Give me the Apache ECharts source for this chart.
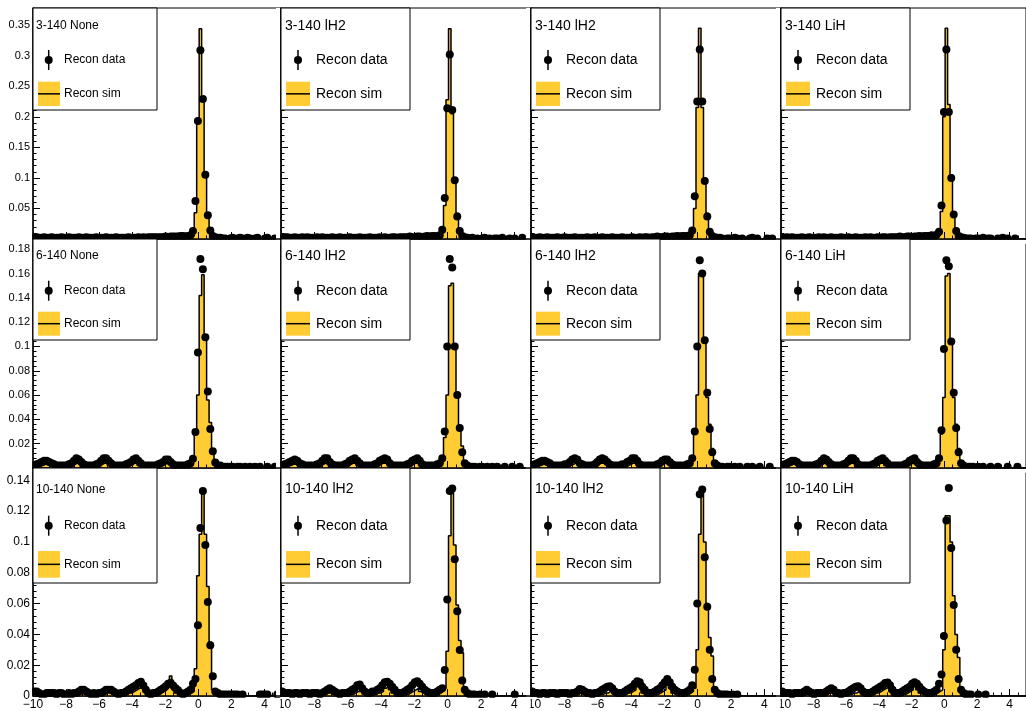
<!DOCTYPE html>
<html>
<head>
<meta charset="utf-8">
<title>Recon data vs Recon sim</title>
<script src="https://cdn.jsdelivr.net/npm/echarts@6/dist/echarts.min.js"></script>
<style>
  html, body { margin: 0; padding: 0; background: #fff; }
  #chart { width: 1026px; height: 711px; }
</style>
</head>
<body>
<div id="chart"></div>
<script>
// 100 bins of 0.15 between -10 and 5
const xMin = -10
const xMax = 5
const binWidth = 0.15
const binCount = 100

const titles = [
  ['3-140 None', '3-140 lH2', '3-140 lH2', '3-140 LiH'],
  ['6-140 None', '6-140 lH2', '6-140 lH2', '6-140 LiH'],
  ['10-140 None', '10-140 lH2', '10-140 lH2', '10-140 LiH'],
]

// ---- row 1 : 3-140 ----
const data3None = [
  0.003,0.003,0.002,0.002,0.003,0.002,0.002,0.003,0.002,0.002,
  0.002,0.003,0.002,0.002,0.003,0.002,0.002,0.002,0.003,0.002,
  0.002,0.003,0.002,0.002,0.002,0.003,0.002,0.002,0.002,0.003,
  0.002,0.002,0.002,0.003,0.002,0.002,0.002,0.002,0.003,0.002,
  0.002,0.002,0.003,0.002,0.003,0.002,0.003,0.003,0.003,0.003,
  0.003,0.003,0.003,0.004,0.003,0.004,0.004,0.004,0.004,0.005,
  0.005,0.004,0.005,0.006,0.013,0.062,0.193,0.309,0.229,0.105,
  0.039,0.014,0.005,0.003,0.002,0.002,0.001,0.001,null,0.001,
  0.002,null,0.001,0.002,0.001,null,0.002,0.001,null,0.001,
  0.002,null,null,0.001,0.002,null,null,0.001,null,null,
]
const sim3None = [
  0.001,0.001,0.001,0.001,0.001,0.001,0.001,0.001,0.001,0.001,
  0.001,0.001,0.001,0.001,0.001,0.001,0.001,0.001,0.001,0.001,
  0.001,0.001,0.001,0.001,0.001,0.001,0.001,0.001,0.001,0.001,
  0.001,0.001,0.001,0.001,0.001,0.001,0.001,0.001,0.001,0.001,
  0.001,0.001,0.001,0.001,0.001,0.001,0.001,0.001,0.002,0.001,
  0.001,0.002,0.001,0.002,0.002,0.001,0.002,0.002,0.002,0.002,
  0.002,0.002,0.003,0.004,0.005,0.043,0.198,0.344,0.228,0.106,
  0.043,0.012,0.003,0.001,0,0,0,0,0,0,
  0,0,0,0,0,0,0,0,0,0,
  0,0,0,0,0,0,0,0,0,0,
]
const data3LH2a = [
  0.002,0.003,0.003,0.002,0.002,0.003,0.002,0.002,0.003,0.002,
  0.003,0.002,0.002,0.002,0.003,0.002,0.003,0.002,0.002,0.002,
  0.003,0.002,0.002,0.003,0.002,0.002,0.002,0.003,0.002,0.002,
  0.002,0.003,0.002,0.002,0.002,0.003,0.002,0.002,0.002,0.003,
  0.002,0.003,0.002,0.002,0.003,0.003,0.002,0.003,0.003,0.003,
  0.003,0.004,0.003,0.003,0.004,0.004,0.003,0.004,0.005,0.004,
  0.005,0.005,0.004,0.006,0.015,0.067,0.214,0.302,0.211,0.096,
  0.037,0.013,0.005,0.003,0.002,0.001,0.002,null,0.001,null,
  0.001,0.002,null,0.001,null,0.001,0.001,null,0.002,null,
  null,0.001,null,0.001,null,null,0.002,null,null,null,
]
const sim3LH2a = [
  0.001,0.001,0.001,0.001,0.001,0.001,0.001,0.001,0.001,0.001,
  0.001,0.001,0.001,0.001,0.001,0.001,0.001,0.001,0.001,0.001,
  0.001,0.001,0.001,0.001,0.001,0.001,0.001,0.001,0.001,0.001,
  0.001,0.001,0.001,0.001,0.001,0.001,0.001,0.001,0.001,0.001,
  0.001,0.001,0.001,0.001,0.001,0.001,0.002,0.001,0.001,0.001,
  0.002,0.001,0.002,0.002,0.001,0.002,0.002,0.002,0.002,0.002,
  0.002,0.002,0.003,0.004,0.010,0.055,0.228,0.344,0.205,0.096,
  0.042,0.012,0.003,0.001,0,0,0,0,0,0,
  0,0,0,0,0,0,0,0,0,0,
  0,0,0,0,0,0,0,0,0,0,
]
const data3LH2b = [
  0.003,0.002,0.002,0.003,0.002,0.002,0.003,0.002,0.002,0.002,
  0.003,0.002,0.002,0.003,0.002,0.002,0.002,0.003,0.002,0.002,
  0.002,0.002,0.003,0.002,0.002,0.003,0.002,0.002,0.003,0.002,
  0.002,0.002,0.003,0.002,0.002,0.002,0.003,0.002,0.002,0.002,
  0.003,0.002,0.002,0.003,0.002,0.003,0.003,0.002,0.003,0.003,
  0.004,0.003,0.003,0.004,0.004,0.003,0.004,0.004,0.005,0.004,
  0.005,0.005,0.005,0.006,0.014,0.070,0.225,0.310,0.225,0.095,
  0.037,0.012,0.005,0.003,0.002,0.002,0.001,null,0.001,0.001,
  null,0.002,0.001,null,0.001,null,null,0.001,0.002,null,
  0.001,null,null,null,0.001,null,0.001,null,null,null,
]
const sim3LH2b = [
  0.001,0.001,0.001,0.001,0.001,0.001,0.001,0.001,0.001,0.001,
  0.001,0.001,0.001,0.001,0.001,0.001,0.001,0.001,0.001,0.001,
  0.001,0.001,0.001,0.001,0.001,0.001,0.001,0.001,0.001,0.001,
  0.001,0.001,0.001,0.001,0.001,0.001,0.001,0.001,0.001,0.001,
  0.001,0.001,0.001,0.001,0.002,0.001,0.001,0.001,0.002,0.001,
  0.002,0.002,0.001,0.002,0.002,0.002,0.002,0.002,0.002,0.003,
  0.002,0.003,0.003,0.004,0.008,0.050,0.215,0.345,0.215,0.100,
  0.042,0.012,0.003,0.001,0,0,0,0,0,0,
  0,0,0,0,0,0,0,0,0,0,
  0,0,0,0,0,0,0,0,0,0,
]
const data3LiH = [
  0.002,0.002,0.003,0.002,0.003,0.002,0.002,0.002,0.003,0.002,
  0.002,0.003,0.002,0.002,0.002,0.003,0.002,0.003,0.002,0.002,
  0.003,0.002,0.002,0.002,0.003,0.002,0.002,0.003,0.002,0.002,
  0.003,0.002,0.002,0.002,0.003,0.002,0.003,0.002,0.002,0.003,
  0.002,0.003,0.003,0.002,0.003,0.003,0.003,0.003,0.004,0.003,
  0.003,0.004,0.004,0.003,0.004,0.004,0.005,0.004,0.005,0.005,
  0.005,0.006,0.005,0.007,0.012,0.055,0.208,0.310,0.208,0.100,
  0.040,0.013,0.005,0.003,0.002,0.001,0.001,0.001,null,0.001,
  0.001,null,0.002,null,0.001,0.001,null,null,0.001,null,
  0.002,null,0.001,null,null,0.001,null,null,null,null,
]
const sim3LiH = [
  0.001,0.001,0.001,0.001,0.001,0.001,0.001,0.001,0.001,0.001,
  0.001,0.001,0.001,0.001,0.001,0.001,0.001,0.001,0.001,0.001,
  0.001,0.001,0.001,0.001,0.001,0.001,0.001,0.001,0.001,0.001,
  0.001,0.001,0.001,0.001,0.001,0.001,0.001,0.001,0.001,0.001,
  0.001,0.001,0.001,0.002,0.001,0.001,0.002,0.001,0.002,0.002,
  0.002,0.002,0.002,0.002,0.002,0.003,0.002,0.002,0.003,0.003,
  0.002,0.003,0.003,0.005,0.006,0.045,0.200,0.345,0.220,0.105,
  0.043,0.012,0.003,0.001,0,0,0,0,0,0,
  0,0,0,0,0,0,0,0,0,0,
  0,0,0,0,0,0,0,0,0,0,
]

// ---- row 2 : 6-140 ----
const data6None = [
  0.002,0.003,0.004,0.005,0.006,0.006,0.005,0.004,0.003,0.002,
  0.002,0.002,0.002,0.002,0.003,0.004,0.006,0.008,0.007,0.005,
  0.003,0.002,0.002,0.002,0.002,0.003,0.004,0.006,0.008,0.008,
  0.006,0.004,0.002,0.002,0.002,0.002,0.002,0.003,0.004,0.005,
  0.007,0.008,0.006,0.004,0.002,0.002,0.002,0.002,0.002,0.002,
  0.003,0.004,0.005,0.007,0.007,0.005,0.003,0.002,0.002,0.002,
  0.002,0.002,0.003,0.004,0.0077,0.0296,0.095,0.172,0.1635,0.1076,
  0.063,0.032,0.0137,0.0046,0.002,0.002,0.001,0.001,0.001,0.001,
  0.001,null,0.001,0.001,null,0.001,null,0.001,null,0.001,
  null,0.001,null,null,0.001,null,null,0.001,null,null,
]
const sim6None = [
  0.001,0.001,0.002,0.002,0.003,0.003,0.002,0.001,0.001,0.001,
  0.001,0.001,0.001,0.001,0.001,0.002,0.003,0.004,0.003,0.001,
  0.001,0.001,0.001,0.001,0.001,0.001,0.002,0.003,0.004,0.004,
  0.002,0.001,0.001,0.001,0.001,0.001,0.001,0.001,0.002,0.003,
  0.004,0.004,0.002,0.001,0.001,0.001,0.001,0.001,0.001,0.001,
  0.001,0.002,0.003,0.004,0.004,0.002,0.001,0.001,0.001,0.001,
  0.001,0.001,0.002,0.004,0.008,0.030,0.060,0.142,0.159,0.1055,
  0.056,0.0375,0.015,0.005,0.001,0,0,0,0,0,
  0,0,0,0,0,0,0,0,0,0,
  0,0,0,0,0,0,0,0,0,0,
]
const data6LH2a = [
  0.002,0.003,0.004,0.005,0.006,0.007,0.006,0.004,0.003,0.002,
  0.002,0.002,0.002,0.002,0.003,0.004,0.006,0.008,0.008,0.005,
  0.003,0.002,0.002,0.002,0.002,0.003,0.004,0.006,0.007,0.008,
  0.006,0.004,0.002,0.002,0.002,0.002,0.002,0.003,0.004,0.006,
  0.007,0.008,0.007,0.004,0.002,0.002,0.002,0.002,0.002,0.002,
  0.003,0.004,0.006,0.007,0.008,0.006,0.003,0.002,0.002,0.002,
  0.002,0.002,0.003,0.004,0.008,0.030,0.100,0.172,0.165,0.100,
  0.060,0.033,0.013,0.004,0.002,0.001,0.001,0.001,null,0.001,
  0.001,null,0.001,null,0.001,null,0.001,null,null,0.001,
  null,null,0.001,null,null,0.001,null,null,null,null,
]
const sim6LH2a = [
  0.001,0.001,0.002,0.002,0.003,0.003,0.002,0.001,0.001,0.001,
  0.001,0.001,0.001,0.001,0.001,0.002,0.003,0.004,0.004,0.001,
  0.001,0.001,0.001,0.001,0.001,0.001,0.002,0.003,0.004,0.004,
  0.002,0.001,0.001,0.001,0.001,0.001,0.001,0.001,0.002,0.003,
  0.004,0.004,0.003,0.001,0.001,0.001,0.001,0.001,0.001,0.001,
  0.001,0.002,0.003,0.004,0.004,0.002,0.001,0.001,0.001,0.001,
  0.001,0.001,0.002,0.003,0.005,0.025,0.060,0.150,0.152,0.100,
  0.058,0.035,0.018,0.005,0.001,0,0,0,0,0,
  0,0,0,0,0,0,0,0,0,0,
  0,0,0,0,0,0,0,0,0,0,
]
const data6LH2b = [
  0.002,0.003,0.004,0.005,0.006,0.006,0.005,0.004,0.002,0.002,
  0.002,0.002,0.002,0.003,0.003,0.005,0.007,0.008,0.007,0.004,
  0.003,0.002,0.002,0.002,0.002,0.003,0.005,0.007,0.008,0.007,
  0.005,0.003,0.002,0.002,0.002,0.002,0.003,0.003,0.005,0.006,
  0.008,0.008,0.006,0.003,0.002,0.002,0.002,0.002,0.002,0.002,
  0.003,0.004,0.006,0.007,0.007,0.005,0.003,0.002,0.002,0.002,
  0.002,0.002,0.003,0.004,0.008,0.030,0.100,0.171,0.160,0.105,
  0.062,0.032,0.013,0.004,0.002,0.001,0.001,null,0.001,0.001,
  null,0.001,null,0.001,null,null,0.001,null,0.001,null,
  null,0.001,null,null,null,0.001,null,null,null,null,
]
const sim6LH2b = [
  0.001,0.001,0.002,0.002,0.003,0.003,0.002,0.001,0.001,0.001,
  0.001,0.001,0.001,0.001,0.001,0.002,0.003,0.004,0.003,0.001,
  0.001,0.001,0.001,0.001,0.001,0.001,0.002,0.004,0.004,0.003,
  0.002,0.001,0.001,0.001,0.001,0.001,0.001,0.001,0.002,0.003,
  0.004,0.004,0.002,0.001,0.001,0.001,0.001,0.001,0.001,0.001,
  0.001,0.002,0.003,0.004,0.004,0.002,0.001,0.001,0.001,0.001,
  0.001,0.001,0.002,0.003,0.006,0.028,0.060,0.160,0.161,0.105,
  0.058,0.036,0.016,0.005,0.001,0,0,0,0,0,
  0,0,0,0,0,0,0,0,0,0,
  0,0,0,0,0,0,0,0,0,0,
]
const data6LiH = [
  0.002,0.003,0.004,0.005,0.006,0.006,0.005,0.003,0.002,0.002,
  0.002,0.002,0.002,0.002,0.003,0.004,0.006,0.008,0.007,0.005,
  0.003,0.002,0.002,0.002,0.002,0.003,0.004,0.006,0.008,0.008,
  0.006,0.003,0.002,0.002,0.002,0.002,0.002,0.003,0.004,0.006,
  0.007,0.008,0.006,0.004,0.002,0.002,0.002,0.002,0.002,0.002,
  0.003,0.004,0.006,0.007,0.008,0.005,0.003,0.002,0.002,0.002,
  0.002,0.002,0.003,0.004,0.008,0.031,0.098,0.171,0.166,0.104,
  0.062,0.033,0.013,0.004,0.002,0.001,0.001,0.001,0.001,null,
  0.001,null,0.001,null,null,0.001,null,null,0.001,null,
  null,null,0.001,null,null,null,0.001,null,null,null,
]
const sim6LiH = [
  0.001,0.001,0.002,0.002,0.003,0.003,0.002,0.001,0.001,0.001,
  0.001,0.001,0.001,0.001,0.001,0.002,0.003,0.004,0.003,0.001,
  0.001,0.001,0.001,0.001,0.001,0.001,0.002,0.003,0.004,0.004,
  0.002,0.001,0.001,0.001,0.001,0.001,0.001,0.001,0.002,0.003,
  0.004,0.004,0.002,0.001,0.001,0.001,0.001,0.001,0.001,0.001,
  0.001,0.002,0.003,0.004,0.004,0.002,0.001,0.001,0.001,0.001,
  0.001,0.001,0.002,0.003,0.006,0.028,0.058,0.158,0.160,0.105,
  0.058,0.036,0.016,0.005,0.001,0,0,0,0,0,
  0,0,0,0,0,0,0,0,0,0,
  0,0,0,0,0,0,0,0,0,0,
]

// ---- row 3 : 10-140 ----
const data10None = [
  0.003,0.003,0.002,0.001,0.001,0.002,0.002,0.002,0.002,0.001,
  0.002,0.002,0.001,0.001,0.002,0.001,0.002,0.002,0.003,0.004,
  0.004,0.003,0.002,0.001,0.002,0.001,0.002,0.002,0.003,0.004,
  0.004,0.004,0.003,0.002,0.001,0.002,0.002,0.003,0.004,0.005,
  0.006,0.007,0.0085,0.0092,0.0068,0.004,0.002,0.001,0.002,0.002,
  0.003,0.004,0.005,0.0064,0.008,0.0086,0.0068,0.005,0.0038,0.002,
  0.001,0.002,0.003,0.004,0.008,0.011,0.046,0.109,0.133,0.098,
  0.061,0.033,0.0129,0.003,0.002,0.001,0.001,0.001,0.001,0.001,
  0.001,0.001,0.001,null,0.001,null,null,null,null,null,
  null,0.001,0.001,0.001,0.001,null,null,null,0.001,null,
]
const sim10None = [
  0.002,0.002,0.001,0.001,0.001,0.001,0.001,0.001,0.001,0.001,
  0.001,0.001,0.001,0.001,0.001,0.001,0.001,0.001,0.002,0.002,
  0.003,0.002,0.001,0.001,0.001,0.001,0.001,0.001,0.001,0.002,
  0.003,0.004,0.002,0.001,0.001,0.001,0.001,0.001,0.002,0.002,
  0.003,0.004,0.005,0.006,0.005,0.002,0.001,0.001,0.001,0.001,
  0.001,0.002,0.003,0.004,0.006,0.013,0.004,0.002,0.001,0.001,
  0.001,0.001,0.001,0.002,0.003,0.0177,0.078,0.105,0.134,0.105,
  0.071,0.035,0.004,0.001,0,0,0,0,0,0,
  0,0,0,0,0,0,0,0,0,0,
  0,0,0,0,0,0,0,0,0,0,
]
const data10LH2a = [
  0.003,0.002,0.002,0.002,0.001,0.002,0.002,0.001,0.002,0.002,
  0.002,0.001,0.002,0.002,0.002,0.001,0.002,0.003,0.004,0.005,
  0.004,0.003,0.002,0.001,0.002,0.002,0.002,0.003,0.004,0.005,
  0.007,0.0075,0.005,0.003,0.002,0.002,0.003,0.003,0.004,0.005,
  0.007,0.009,0.0092,0.008,0.006,0.004,0.002,0.002,0.002,0.003,
  0.004,0.005,0.007,0.009,0.0096,0.008,0.006,0.004,0.003,0.002,
  0.002,0.002,0.003,0.004,0.005,0.0168,0.0627,0.133,0.1347,0.0888,
  0.055,0.0298,0.0101,0.004,0.002,0.001,0.001,0.001,null,0.001,
  null,0.001,null,null,0.001,null,null,null,null,null,
  null,null,null,0.001,null,null,null,null,null,null,
]
const sim10LH2a = [
  0.002,0.001,0.001,0.001,0.001,0.001,0.001,0.001,0.001,0.001,
  0.001,0.001,0.001,0.001,0.001,0.001,0.001,0.001,0.002,0.002,
  0.002,0.001,0.001,0.001,0.001,0.001,0.001,0.001,0.001,0.002,
  0.003,0.003,0.002,0.001,0.001,0.001,0.001,0.001,0.002,0.002,
  0.003,0.005,0.006,0.004,0.002,0.001,0.001,0.001,0.001,0.001,
  0.001,0.002,0.003,0.004,0.005,0.003,0.002,0.001,0.001,0.001,
  0.001,0.001,0.001,0.002,0.003,0.005,0.029,0.104,0.135,0.098,
  0.059,0.036,0.028,0.004,0.001,0,0,0,0,0,
  0,0,0,0,0,0,0,0,0,0,
  0,0,0,0,0,0,0,0,0,0,
]
const data10LH2b = [
  0.003,0.002,0.002,0.001,0.002,0.002,0.001,0.002,0.002,0.002,
  0.001,0.002,0.002,0.002,0.002,0.001,0.002,0.002,0.003,0.0045,
  0.004,0.003,0.002,0.002,0.001,0.002,0.002,0.003,0.004,0.005,
  0.006,0.0064,0.005,0.003,0.002,0.002,0.002,0.003,0.004,0.005,
  0.006,0.008,0.0096,0.009,0.006,0.004,0.002,0.002,0.002,0.003,
  0.004,0.005,0.007,0.009,0.011,0.009,0.006,0.004,0.003,0.002,
  0.002,0.002,0.003,0.004,0.007,0.017,0.060,0.131,0.134,0.090,
  0.058,0.030,0.011,0.004,0.002,0.001,0.001,0.001,0.001,null,
  0.001,null,0.001,null,null,null,null,null,null,null,
  null,null,null,null,null,null,null,null,null,null,
]
const sim10LH2b = [
  0.002,0.001,0.001,0.001,0.001,0.001,0.001,0.001,0.001,0.001,
  0.001,0.001,0.001,0.001,0.001,0.001,0.001,0.001,0.002,0.002,
  0.002,0.001,0.001,0.001,0.001,0.001,0.001,0.001,0.001,0.002,
  0.002,0.003,0.002,0.001,0.001,0.001,0.001,0.001,0.002,0.002,
  0.003,0.004,0.006,0.005,0.002,0.001,0.001,0.001,0.001,0.001,
  0.001,0.002,0.003,0.004,0.007,0.005,0.002,0.001,0.001,0.001,
  0.001,0.001,0.001,0.002,0.003,0.005,0.030,0.105,0.135,0.100,
  0.060,0.038,0.026,0.004,0.001,0,0,0,0,0,
  0,0,0,0,0,0,0,0,0,0,
  0,0,0,0,0,0,0,0,0,0,
]
const data10LiH = [
  0.003,0.002,0.002,0.002,0.001,0.002,0.002,0.002,0.002,0.003,
  0.004,0.003,0.002,0.001,0.002,0.002,0.002,0.002,0.003,0.004,
  0.005,0.004,0.002,0.002,0.001,0.002,0.002,0.003,0.004,0.005,
  0.006,0.0064,0.005,0.003,0.002,0.002,0.002,0.003,0.004,0.005,
  0.006,0.007,0.0085,0.0088,0.007,0.004,0.002,0.002,0.002,0.003,
  0.004,0.005,0.006,0.008,0.009,0.008,0.006,0.004,0.003,0.002,
  0.002,0.002,0.003,0.004,0.008,0.014,0.039,0.114,0.135,0.096,
  0.059,0.030,0.011,0.004,0.002,0.001,0.001,0.001,null,null,
  0.001,null,null,0.001,null,null,null,null,null,null,
  null,null,null,null,null,null,null,null,null,null,
]
const sim10LiH = [
  0.002,0.001,0.001,0.001,0.001,0.001,0.001,0.001,0.001,0.001,
  0.001,0.001,0.001,0.001,0.001,0.001,0.001,0.001,0.001,0.002,
  0.002,0.001,0.001,0.001,0.001,0.001,0.001,0.001,0.001,0.002,
  0.002,0.003,0.002,0.001,0.001,0.001,0.001,0.001,0.002,0.002,
  0.003,0.004,0.005,0.006,0.003,0.001,0.001,0.001,0.001,0.001,
  0.001,0.002,0.003,0.004,0.006,0.004,0.002,0.001,0.001,0.001,
  0.001,0.001,0.001,0.002,0.003,0.004,0.030,0.117,0.117,0.100,
  0.065,0.040,0.025,0.004,0.001,0,0,0,0,0,
  0,0,0,0,0,0,0,0,0,0,
  0,0,0,0,0,0,0,0,0,0,
]

const dataSets = [
  [data3None, data3LH2a, data3LH2b, data3LiH],
  [data6None, data6LH2a, data6LH2b, data6LiH],
  [data10None, data10LH2a, data10LH2b, data10LiH],
]
const simSets = [
  [sim3None, sim3LH2a, sim3LH2b, sim3LiH],
  [sim6None, sim6LH2a, sim6LH2b, sim6LiH],
  [sim10None, sim10LH2a, sim10LH2b, sim10LiH],
]

// y axis ranges per row
const yMaxByRow = [0.378, 0.1884, 0.148]
const yStepByRow = [0.05, 0.02, 0.02]

// pad layout (pixels)
const colLeft = [33, 281, 531, 781]
const colWidth = [248, 250, 250, 248]
const rowTop = [8, 239, 468]
const rowHeight = [231, 229, 229]

const simColor = '#ffcc33'
const fontFamily = '"Liberation Sans", Arial, Helvetica, sans-serif'

const binEdges = []
for (let i = 0; i <= binCount; i++) binEdges.push(+(xMin + i * binWidth).toFixed(3))
const binCenters = binEdges.slice(0, binCount).map(e => +(e + binWidth / 2).toFixed(4))

const fmtX = v => (v < 0 ? '\u2212' + Math.abs(v) : String(v))

const option = {
  animation: false,
  backgroundColor: '#fff',
  grid: [],
  xAxis: [],
  yAxis: [],
  series: [],
  graphic: [],
}

// legend geometry (col 1 pad is wider so its legend text is smaller)
const legendRow = {
  boxH: [102, 101, 115],
  titleY: [17.7, 17, 21.3],
  markY: [52, 51.7, 57.7],
  patchY: [73.7, 72.7, 83],
  patchH: [24.3, 24, 26.7],
}
const legendCol = c => c === 0
  ? { boxW: 124, titleX: 3, markX: 15.7, textX: 31, patchX: 5, patchW: 22, font: 12 }
  : { boxW: 129, titleX: 4, markX: 17, textX: 35, patchX: 5, patchW: 24, font: 14 }

for (let r = 0; r < 3; r++) {
  for (let c = 0; c < 4; c++) {
    const idx = r * 4 + c
    option.grid.push({
      left: colLeft[c], top: rowTop[r], width: colWidth[c], height: rowHeight[r],
      show: true, borderColor: '#000', borderWidth: 1, backgroundColor: 'transparent',
    })
    option.xAxis.push({
      type: 'value', gridIndex: idx, min: xMin, max: xMax, interval: 2, z: 10,
      axisLine: { show: true, onZero: false, lineStyle: { color: '#000', width: 1.5 } },
      axisTick: { show: true, inside: true, length: 7, lineStyle: { color: '#000', width: 1 } },
      minorTick: { show: true, splitNumber: 4, length: 3.5, lineStyle: { color: '#000', width: 1 } },
      splitLine: { show: false },
      axisLabel: {
        show: r === 2, showMaxLabel: false, color: '#000', fontSize: 12, margin: 3,
        fontFamily, formatter: fmtX,
      },
    })
    option.yAxis.push({
      type: 'value', gridIndex: idx, min: 0, max: yMaxByRow[r], interval: yStepByRow[r], z: 10,
      axisLine: { show: true, onZero: false, lineStyle: { color: '#000', width: 1.5 } },
      axisTick: { show: true, inside: true, length: 7, lineStyle: { color: '#000', width: 1 } },
      minorTick: { show: true, splitNumber: 5, length: 3.5, lineStyle: { color: '#000', width: 1 } },
      splitLine: { show: false },
      axisLabel: {
        show: c === 0, showMinLabel: r === 2, showMaxLabel: false, color: '#000',
        fontSize: r === 2 ? 12 : 11, margin: 3, fontFamily,
      },
    })

    // sim histogram: step line through bin left edges, filled to zero
    const sim = simSets[r][c]
    const simPts = sim.map((v, i) => [binEdges[i], v])
    simPts.push([binEdges[binCount], sim[binCount - 1]])
    option.series.push({
      type: 'line', xAxisIndex: idx, yAxisIndex: idx, step: 'end',
      data: simPts, showSymbol: false, symbol: 'none', z: 2,
      lineStyle: { color: '#000', width: 1.5 },
      areaStyle: { color: simColor, opacity: 1 },
    })

    // data points at bin centres (empty bins skipped)
    const pts = dataSets[r][c]
      .map((v, i) => (v === null ? null : [binCenters[i], v]))
      .filter(p => p !== null)
    option.series.push({
      type: 'scatter', xAxisIndex: idx, yAxisIndex: idx, data: pts,
      symbol: 'circle', symbolSize: 8, z: 3,
      itemStyle: { color: '#000', opacity: 1 },
    })

    // legend box
    const L = legendCol(c)
    const x0 = colLeft[c]
    const y0 = rowTop[r]
    const font = L.font + 'px ' + fontFamily
    option.graphic.push(
      { type: 'rect', z: 20, shape: { x: x0, y: y0, width: L.boxW, height: legendRow.boxH[r] },
        style: { fill: '#fff', stroke: '#000', lineWidth: 1 } },
      { type: 'text', z: 21, x: x0 + L.titleX, y: y0 + legendRow.titleY[r],
        style: { text: titles[r][c], font, fill: '#000', verticalAlign: 'middle' } },
      { type: 'line', z: 21, shape: { x1: x0 + L.markX, y1: y0 + legendRow.markY[r] - 10,
        x2: x0 + L.markX, y2: y0 + legendRow.markY[r] + 10 }, style: { stroke: '#000', lineWidth: 1.5 } },
      { type: 'circle', z: 22, shape: { cx: x0 + L.markX, cy: y0 + legendRow.markY[r], r: 4 },
        style: { fill: '#000' } },
      { type: 'text', z: 21, x: x0 + L.textX, y: y0 + legendRow.markY[r],
        style: { text: 'Recon data', font, fill: '#000', verticalAlign: 'middle' } },
      { type: 'rect', z: 21, shape: { x: x0 + L.patchX, y: y0 + legendRow.patchY[r],
        width: L.patchW, height: legendRow.patchH[r] }, style: { fill: simColor } },
      { type: 'line', z: 22, shape: { x1: x0 + L.patchX, y1: y0 + legendRow.patchY[r] + legendRow.patchH[r] / 2,
        x2: x0 + L.patchX + L.patchW, y2: y0 + legendRow.patchY[r] + legendRow.patchH[r] / 2 },
        style: { stroke: '#000', lineWidth: 1.5 } },
      { type: 'text', z: 21, x: x0 + L.textX, y: y0 + legendRow.patchY[r] + legendRow.patchH[r] / 2,
        style: { text: 'Recon sim', font, fill: '#000', verticalAlign: 'middle' } },
    )
  }
}

// pads clip their markers: hide the halves of markers that fall outside a frame
for (let r = 0; r < 3; r++) {
  const yb = rowTop[r] + rowHeight[r]
  option.graphic.push({ type: 'rect', z: 5, silent: true,
    shape: { x: 0, y: yb + 0.8, width: 1026, height: 4 }, style: { fill: '#fff' } })
}
option.graphic.push({ type: 'rect', z: 5, silent: true,
  shape: { x: 0, y: rowTop[0], width: colLeft[0] - 0.8, height: 697 - rowTop[0] }, style: { fill: '#fff' } })
for (let c = 1; c < 4; c++) {
  option.graphic.push({ type: 'rect', z: 5, silent: true,
    shape: { x: colLeft[c] - 5, y: rowTop[0], width: 4.2, height: 697 - rowTop[0] }, style: { fill: '#fff' } })
  // the "-10" label of the inner pads is cut by the pad on its left
  option.graphic.push({ type: 'rect', z: 15, silent: true,
    shape: { x: colLeft[c] - 11, y: 698.5, width: 10.5, height: 12 }, style: { fill: '#fff' } })
}

const chart = echarts.init(document.getElementById('chart'), null, { renderer: 'canvas' })
chart.setOption(option)
window.addEventListener('resize', () => chart.resize())
</script>
</body>
</html>
